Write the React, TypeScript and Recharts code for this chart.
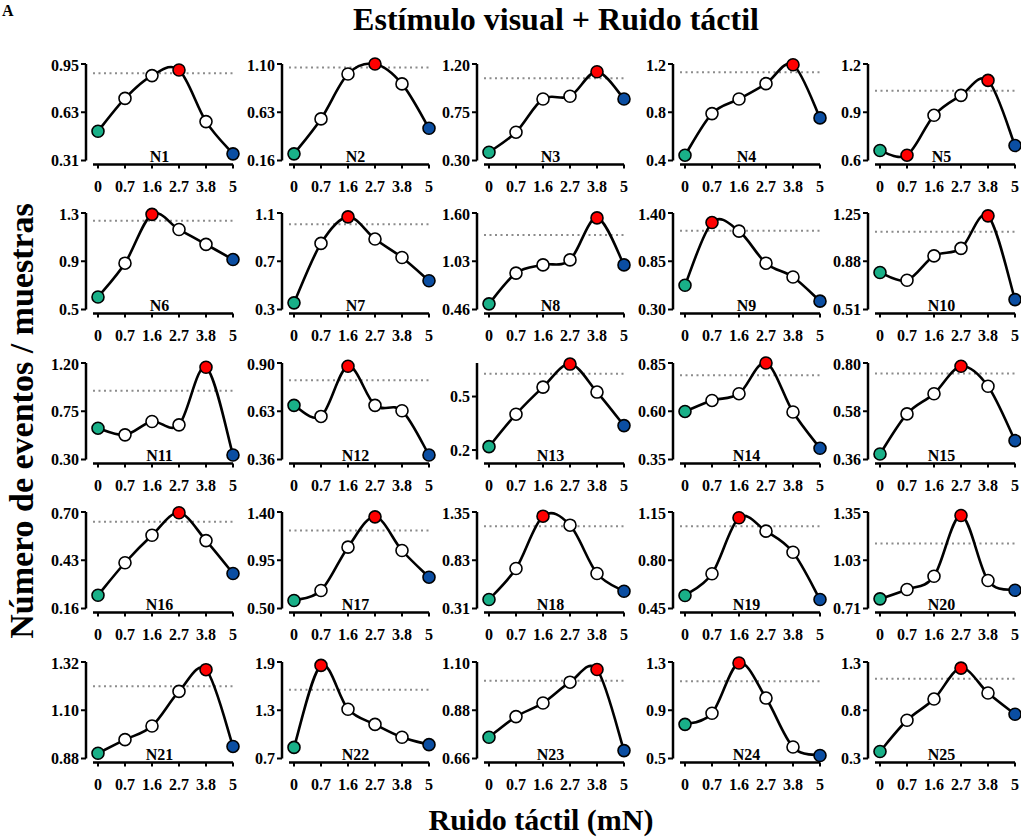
import { Line, LineChart, ReferenceLine, XAxis, YAxis } from "recharts";

// noise amplitude categories (mN)
const noiseLevels = ["0", "0.7", "1.6", "2.7", "3.8", "5"];

const neuronNames = [
  "N1", "N2", "N3", "N4", "N5",
  "N6", "N7", "N8", "N9", "N10",
  "N11", "N12", "N13", "N14", "N15",
  "N16", "N17", "N18", "N19", "N20",
  "N21", "N22", "N23", "N24", "N25",
];

// events / sample, one row per neuron, one value per noise level
const eventRates = [
  [0.504, 0.722, 0.873, 0.91, 0.568, 0.354],
  [0.225, 0.565, 1.003, 1.1, 0.906, 0.474],
  [0.377, 0.564, 0.874, 0.899, 1.128, 0.874],
  [0.444, 0.789, 0.91, 1.037, 1.194, 0.753],
  [0.662, 0.633, 0.881, 1.005, 1.098, 0.693],
  [0.604, 0.884, 1.289, 1.163, 1.04, 0.914],
  [0.355, 0.848, 1.068, 0.884, 0.731, 0.538],
  [0.527, 0.89, 0.987, 1.046, 1.542, 0.987],
  [0.576, 1.291, 1.193, 0.828, 0.67, 0.395],
  [0.794, 0.734, 0.921, 0.979, 1.228, 0.586],
  [0.592, 0.53, 0.654, 0.623, 1.16, 0.342],
  [0.663, 0.601, 0.882, 0.663, 0.633, 0.385],
  [0.219, 0.401, 0.553, 0.682, 0.525, 0.337],
  [0.599, 0.656, 0.691, 0.85, 0.596, 0.408],
  [0.385, 0.568, 0.66, 0.785, 0.694, 0.446],
  [0.234, 0.416, 0.57, 0.696, 0.54, 0.356],
  [0.575, 0.668, 1.072, 1.355, 1.041, 0.792],
  [0.407, 0.741, 1.305, 1.208, 0.687, 0.496],
  [0.544, 0.702, 1.108, 1.011, 0.858, 0.515],
  [0.774, 0.836, 0.924, 1.327, 0.896, 0.831],
  [0.904, 0.966, 1.028, 1.186, 1.285, 0.935],
  [0.838, 1.858, 1.313, 1.124, 0.964, 0.872],
  [0.757, 0.851, 0.913, 1.008, 1.066, 0.696],
  [0.783, 0.875, 1.292, 1.001, 0.595, 0.525],
  [0.373, 0.696, 0.916, 1.237, 0.979, 0.759],
];

// dotted significance level per neuron
const thresholds = [
  0.888, 1.067, 1.066, 1.131, 1.034,
  1.235, 1.007, 1.339, 1.198, 1.106,
  0.942, 0.803, 0.628, 0.786, 0.752,
  0.645, 1.228, 1.197, 1.047, 1.141,
  1.209, 1.556, 1.015, 1.141, 1.126,
];

// indices of the red (peak) markers
const peakPoints = [
  [3], [3], [4], [4], [1, 4],
  [2], [2], [4], [1], [4],
  [4], [2], [3], [3], [3],
  [3], [3], [2], [2], [3],
  [4], [1], [4], [2], [3],
];

const yTickLabels = [
  ["0.31", "0.63", "0.95"], ["0.16", "0.63", "1.10"], ["0.30", "0.75", "1.20"], ["0.4", "0.8", "1.2"], ["0.6", "0.9", "1.2"],
  ["0.5", "0.9", "1.3"], ["0.3", "0.7", "1.1"], ["0.46", "1.03", "1.60"], ["0.30", "0.85", "1.40"], ["0.51", "0.88", "1.25"],
  ["0.30", "0.75", "1.20"], ["0.36", "0.63", "0.90"], ["0.2", "0.5"], ["0.35", "0.60", "0.85"], ["0.36", "0.58", "0.80"],
  ["0.16", "0.43", "0.70"], ["0.50", "0.95", "1.40"], ["0.31", "0.83", "1.35"], ["0.45", "0.80", "1.15"], ["0.71", "1.03", "1.35"],
  ["0.88", "1.10", "1.32"], ["0.7", "1.3", "1.9"], ["0.66", "0.88", "1.10"], ["0.5", "0.9", "1.3"], ["0.3", "0.8", "1.3"],
];

const yDomains: [number, number][] = [
  [0.31, 0.95], [0.16, 1.1], [0.3, 1.2], [0.4, 1.2], [0.6, 1.2],
  [0.5, 1.3], [0.3, 1.1], [0.46, 1.6], [0.3, 1.4], [0.51, 1.25],
  [0.3, 1.2], [0.36, 0.9], [0.147, 0.688], [0.35, 0.85], [0.36, 0.8],
  [0.16, 0.7], [0.5, 1.4], [0.31, 1.35], [0.45, 1.15], [0.71, 1.35],
  [0.88, 1.32], [0.7, 1.9], [0.66, 1.1], [0.5, 1.3], [0.3, 1.3],
];

const GREEN = "#19b088";
const BLUE = "#0b4ea2";
const RED = "#ff0000";
const FONT = '"Liberation Serif", "Times New Roman", serif';

const COL_PITCH = 195.5;
const ROW_PITCH = 149.6;
const FIRST_AXIS_X = 86;
const FIRST_ROW_TOP = 63.5;
const GAP = 4; // gap between y axis end and x axis line
const PLOT_H = 96.5 + GAP;
const Y_AXIS_W = 45;
const TOP_M = 8;
const CHART_H = 150;
const CHART_W = 202;

const tickStyle = { fontFamily: FONT, fontSize: 16, fontWeight: 700, fill: "#000" };

const dottedPattern = "0 7 " + "2 3.5 ".repeat(26).trim();

// Catmull-Rom style smoothing, close to a spreadsheet "smoothed line"
function smoothCurve(context: any) {
  let pts: [number, number][] = [];
  return {
    areaStart() {},
    areaEnd() {},
    lineStart() {
      pts = [];
    },
    point(x: number, y: number) {
      pts.push([+x, +y]);
    },
    lineEnd() {
      if (!pts.length) return;
      context.moveTo(pts[0][0], pts[0][1]);
      for (let i = 0; i < pts.length - 1; i++) {
        const p0 = pts[i - 1] || pts[i];
        const p1 = pts[i];
        const p2 = pts[i + 1];
        const p3 = pts[i + 2] || p2;
        context.bezierCurveTo(
          p1[0] + (p2[0] - p0[0]) / 6,
          p1[1] + (p2[1] - p0[1]) / 6,
          p2[0] - (p3[0] - p1[0]) / 6,
          p2[1] - (p3[1] - p1[1]) / 6,
          p2[0],
          p2[1]
        );
      }
    },
  };
}

function Panel({ idx }: { idx: number }) {
  const data = noiseLevels.map((n, i) => ({ noise: n, rate: eventRates[idx][i] }));
  const labels = yTickLabels[idx];
  const ticks = labels.map(Number);
  const peaks = peakPoints[idx];
  const col = idx % 5;
  const row = Math.floor(idx / 5);

  const dotColor = (i: number) => {
    if (peaks.includes(i)) return RED;
    if (i === 0) return GREEN;
    if (i === noiseLevels.length - 1) return BLUE;
    return "#fff";
  };

  return (
    <div
      style={{
        position: "absolute",
        left: FIRST_AXIS_X + col * COL_PITCH - Y_AXIS_W,
        top: FIRST_ROW_TOP + row * ROW_PITCH - TOP_M,
      }}
    >
      <LineChart
        width={CHART_W}
        height={CHART_H}
        data={data}
        margin={{ top: TOP_M, right: 10, bottom: 0, left: 0 }}
      >
        <XAxis
          dataKey="noise"
          interval={0}
          padding={{ left: 12, right: 0 }}
          height={CHART_H - TOP_M - PLOT_H}
          axisLine={{ stroke: "#000", strokeWidth: 2.5, strokeDasharray: "0 7 1000" }}
          tickLine={{ stroke: "#000", strokeWidth: 2 }}
          tickSize={4}
          tickMargin={12}
          tick={tickStyle}
          label={{
            value: neuronNames[idx],
            position: "top",
            offset: 3,
            style: { fontFamily: FONT, fontSize: 16, fontWeight: 700, fill: "#000" },
          }}
        />
        <YAxis
          domain={yDomains[idx]}
          ticks={ticks}
          width={Y_AXIS_W}
          padding={{ top: 0, bottom: GAP }}
          axisLine={{ stroke: "#000", strokeWidth: 2.5, strokeDasharray: `${PLOT_H - GAP} 1000` }}
          tickLine={{ stroke: "#000", strokeWidth: 2 }}
          tickSize={5}
          tickMargin={2}
          tick={tickStyle}
          tickFormatter={(v: number) => labels[ticks.indexOf(v)] ?? String(v)}
        />
        <ReferenceLine
          y={thresholds[idx]}
          stroke="#8c8c8c"
          strokeWidth={2}
          strokeDasharray={dottedPattern}
        />
        <Line
          type={smoothCurve as any}
          dataKey="rate"
          stroke="#000"
          strokeWidth={2.6}
          isAnimationActive={false}
          dot={(p: any) => (
            <circle
              key={`dot-${p.index}`}
              cx={p.cx}
              cy={p.cy}
              r={6}
              fill={dotColor(p.index)}
              stroke="#000"
              strokeWidth={1.6}
            />
          )}
          activeDot={false}
        />
      </LineChart>
    </div>
  );
}

export default function App() {
  return (
    <div
      style={{
        position: "relative",
        width: 1021,
        height: 839,
        background: "#fff",
        overflow: "hidden",
        fontFamily: FONT,
      }}
    >
      <style>{`body { margin: 0; }`}</style>
      <svg
        width={1021}
        height={839}
        style={{ position: "absolute", left: 0, top: 0 }}
      >
        <text x={2} y={16} fontFamily={FONT} fontWeight={700} fontSize={16} fill="#000">
          A
        </text>
        <text x={556} y={30} textAnchor="middle" fontFamily={FONT} fontWeight={700} fontSize={32} fill="#000">
          Estímulo visual + Ruido táctil
        </text>
        <text
          x={33}
          y={421}
          transform="rotate(-90 33 421)"
          textAnchor="middle"
          fontFamily={FONT}
          fontWeight={700}
          fontSize={34}
          fill="#000"
        >
          Número de eventos / muestras
        </text>
        <text x={541} y={830} textAnchor="middle" fontFamily={FONT} fontWeight={700} fontSize={30} fill="#000">
          Ruido táctil (mN)
        </text>
      </svg>
      {neuronNames.map((_, i) => (
        <Panel key={i} idx={i} />
      ))}
    </div>
  );
}
